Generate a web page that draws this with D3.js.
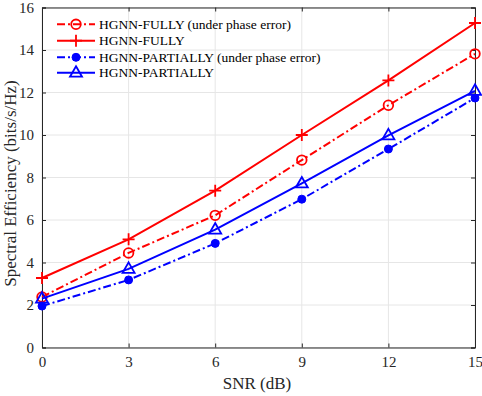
<!DOCTYPE html>
<html><head><meta charset="utf-8">
<script src="https://cdn.jsdelivr.net/npm/d3@7"></script>
<style>body{margin:0;background:#fff}svg{display:block}text{font-family:"Liberation Serif","Times New Roman",serif}</style>
</head><body>
<script>
const snr = [0, 3, 6, 9, 12, 15];
const fullyPhase = [2.38, 4.45, 6.22, 8.82, 11.4, 13.82];
const fully = [3.27, 5.09, 7.38, 10.0, 12.57, 15.27];
const partiallyPhase = [1.95, 3.18, 4.9, 6.98, 9.34, 11.74];
const partially = [2.3, 3.7, 5.55, 7.72, 9.98, 12.08];
const xTicks = [0, 3, 6, 9, 12, 15];
const yTicks = [0, 2, 4, 6, 8, 10, 12, 14, 16];
const seriesNames = ["HGNN-FULLY (under phase error)", "HGNN-FULLY", "HGNN-PARTIALLY (under phase error)", "HGNN-PARTIALLY"];

const W = 482, H = 396;
const m = {l: 42, r: 7, t: 7.5, b: 48.5};
const svg = d3.select("body").append("svg").attr("width", W).attr("height", H);
const x = d3.scaleLinear().domain([0, 15]).range([m.l, W - m.r]);
const y = d3.scaleLinear().domain([0, 16]).range([H - m.b, m.t]);

// grid
const g = svg.append("g");
g.selectAll(".gx").data(xTicks).join("line").attr("x1", d => x(d)).attr("x2", d => x(d))
  .attr("y1", y(0)).attr("y2", y(16)).attr("stroke", "#e6e6e6").attr("stroke-width", 1);
g.selectAll(".gy").data(yTicks).join("line").attr("y1", d => y(d)).attr("y2", d => y(d))
  .attr("x1", x(0)).attr("x2", x(15)).attr("stroke", "#e6e6e6").attr("stroke-width", 1);

const axCol = "#262626";
// axes
const xAxis = svg.append("g").attr("transform", `translate(0,${y(0)})`)
  .call(d3.axisBottom(x).tickValues(xTicks).tickSize(-4).tickPadding(9).tickFormat(d3.format("d")));
const xTop = svg.append("g").attr("transform", `translate(0,${y(16)})`)
  .call(d3.axisTop(x).tickValues(xTicks).tickSize(-4).tickFormat(""));
const yAxis = svg.append("g").attr("transform", `translate(${x(0)},0)`)
  .call(d3.axisLeft(y).tickValues(yTicks).tickSize(-4).tickPadding(8).tickFormat(d3.format("d")));
const yRight = svg.append("g").attr("transform", `translate(${x(15)},0)`)
  .call(d3.axisRight(y).tickValues(yTicks).tickSize(-4).tickFormat(""));
[xAxis, xTop, yAxis, yRight].forEach(a => {
  a.selectAll("path").attr("stroke", axCol).attr("stroke-width", 1);
  a.selectAll("line").attr("stroke", axCol);
  a.selectAll("text").attr("fill", axCol).style("font-size", "15px").style("font-family", '"Liberation Serif",serif');
});

svg.append("text").attr("x", 257).attr("y", 389).attr("text-anchor", "middle")
  .style("font-size", "17px").attr("fill", axCol).text("SNR (dB)");
svg.append("text").attr("transform", `translate(15.5,183.5) rotate(-90)`).attr("text-anchor", "middle")
  .style("font-size", "17px").attr("fill", axCol).text("Spectral Efficiency (bits/s/Hz)");

const red = "#ff0000", blue = "#0000ff";
const dashDot = "8,3,2,3";
const series = [
  {name: seriesNames[0], vals: fullyPhase, color: red, dash: dashDot, marker: "circle"},
  {name: seriesNames[1], vals: fully, color: red, dash: null, marker: "plus"},
  {name: seriesNames[2], vals: partiallyPhase, color: blue, dash: dashDot, marker: "dot"},
  {name: seriesNames[3], vals: partially, color: blue, dash: null, marker: "triangle"}
];

function drawMarker(sel, type, color, cx, cy) {
  if (type === "circle") sel.append("circle").attr("cx", cx).attr("cy", cy).attr("r", 4.8)
    .attr("fill", "none").attr("stroke", color).attr("stroke-width", 1.8);
  else if (type === "dot") sel.append("circle").attr("cx", cx).attr("cy", cy).attr("r", 4)
    .attr("fill", color).attr("stroke", color).attr("stroke-width", 1);
  else if (type === "plus") sel.append("path").attr("d", `M${cx - 6},${cy}H${cx + 6}M${cx},${cy - 6}V${cy + 6}`)
    .attr("stroke", color).attr("stroke-width", 1.8).attr("fill", "none");
  else if (type === "triangle") sel.append("path")
    .attr("d", `M${cx},${cy - 6.5}L${cx + 6},${cy + 4}L${cx - 6},${cy + 4}Z`)
    .attr("stroke", color).attr("stroke-width", 1.8).attr("fill", "none");
}

const line = d3.line().x((d, i) => x(snr[i])).y(d => y(d));
series.forEach(s => {
  const gs = svg.append("g");
  gs.append("path").attr("d", line(s.vals)).attr("fill", "none").attr("stroke", s.color)
    .attr("stroke-width", 2).attr("stroke-dasharray", s.dash);
  s.vals.forEach((v, i) => drawMarker(gs, s.marker, s.color, x(snr[i]), y(v)));
});

// legend
const lg = svg.append("g");
const rowY = [24.3, 40.7, 57.3, 72.7];
series.forEach((s, i) => {
  const cy = rowY[i];
  lg.append("line").attr("x1", 57).attr("x2", 95).attr("y1", cy).attr("y2", cy)
    .attr("stroke", s.color).attr("stroke-width", 2).attr("stroke-dasharray", s.dash);
  drawMarker(lg, s.marker, s.color, 76, cy);
  lg.append("text").attr("x", 99).attr("y", cy + 4.5).style("font-size", "13.5px").attr("fill", "#000").text(s.name);
});
</script>
</body></html>
